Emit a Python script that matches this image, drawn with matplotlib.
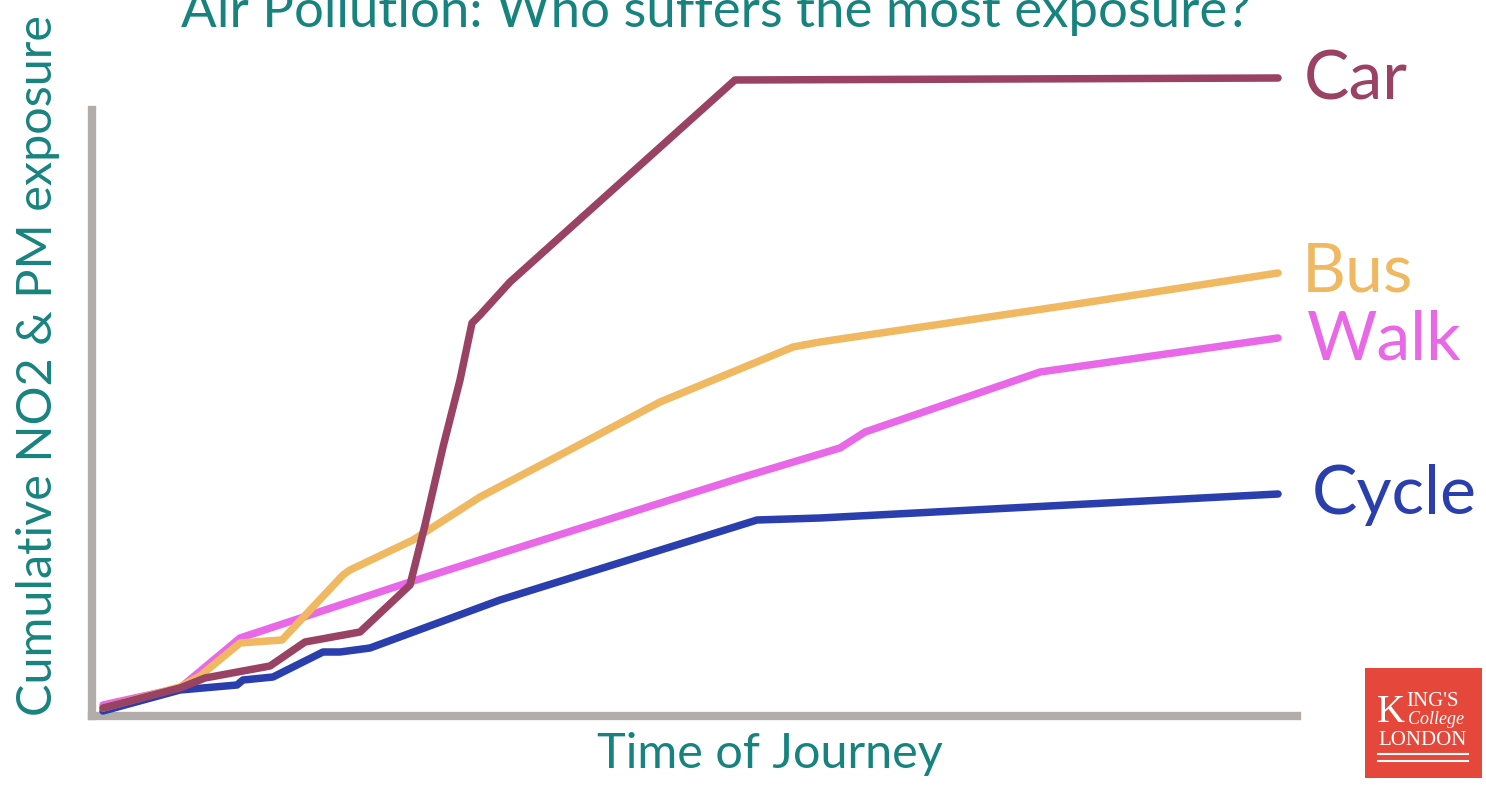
import matplotlib
matplotlib.use("Agg")
import matplotlib.pyplot as plt
from matplotlib.patches import Rectangle

# ---- data (arbitrary units: time along journey, cumulative exposure) ----
car_x = [11, 88, 113, 178, 213, 268, 318, 333, 351, 368, 380, 388, 418, 643, 1186]
car_y = [8, 28, 38, 50, 74, 84, 131, 191, 269, 336, 393, 401, 434, 636, 638]

bus_x = [11, 88, 108, 148, 190, 251, 258, 321, 388, 468, 568, 701, 728, 978, 1186]
bus_y = [8, 29, 40, 73, 76, 141, 146, 176, 219, 261, 314, 369, 374, 411, 443]

walk_x = [11, 88, 148, 315, 435, 648, 748, 773, 948, 1186]
walk_y = [11, 28, 78, 133, 171, 238, 268, 284, 344, 378]

cycle_x = [11, 88, 145, 151, 181, 231, 248, 278, 408, 665, 728, 1186]
cycle_y = [5, 26, 31, 36, 39, 64, 64, 68, 116, 196, 198, 222]

labels = ["Car", "Bus", "Walk", "Cycle"]
colors = ["#9a4263", "#f0b860", "#e968e8", "#2a3eae"]

FONT = ["Lato", "DejaVu Sans"]
TEAL = "#17837f"
SPINE = "#b3adaa"

fig = plt.figure(figsize=(14.86, 7.85), dpi=100)
ax = fig.add_axes([92 / 1486, 69 / 785, 1205 / 1486, 660 / 785])
ax.set_xlim(0, 1205)
ax.set_ylim(0, 660)

series = [(car_x, car_y), (bus_x, bus_y), (walk_x, walk_y), (cycle_x, cycle_y)]
order = [2, 3, 1, 0]  # drawing order
for i in order:
    xs, ys = series[i]
    ax.plot(xs, ys, color=colors[i], lw=5.4, solid_joinstyle="round",
            solid_capstyle="round", zorder=3 + (i == 0))

# end labels
label_pos = {"Car": (1212, 636), "Bus": (1210, 444), "Walk": (1215, 376), "Cycle": (1220, 221)}
for name, c in zip(labels, colors):
    x, y = label_pos[name]
    ax.text(x, y, name, color=c, fontsize=49, family=FONT, ha="left", va="center",
            clip_on=False)

# axes styling
for s in ["top", "right"]:
    ax.spines[s].set_visible(False)
ax.spines["left"].set_color(SPINE)
ax.spines["bottom"].set_color(SPINE)
ax.spines["left"].set_linewidth(6)
ax.spines["bottom"].set_linewidth(6)
ax.spines["left"].set_bounds(0, 606)
ax.set_xticks([])
ax.set_yticks([])
ax.patch.set_visible(False)

# titles
fig.text(0.482, 1 - 27 / 785, "Air Pollution: Who suffers the most exposure?",
         color=TEAL, fontsize=38, family=FONT, ha="center", va="baseline")
fig.text(38 / 1486, 1 - 366 / 785, "Cumulative NO2 & PM exposure", color=TEAL,
         fontsize=35, family=FONT, rotation=90, ha="center", va="center")
fig.text(770 / 1486, 1 - 768 / 785, "Time of Journey", color=TEAL,
         fontsize=35, family=FONT, ha="center", va="baseline")

# King's College London logo block
fig.patches.append(Rectangle((1365 / 1486, 7 / 785), 117 / 1486, 110 / 785,
                             transform=fig.transFigure, facecolor="#e5483b",
                             edgecolor="none"))
serif = ["Liberation Serif", "DejaVu Serif"]
fig.text(1377 / 1486, 1 - 722 / 785, "K", color="white", fontsize=28, family=serif,
         ha="left", va="baseline")
fig.text(1406 / 1486, 1 - 706 / 785, "ING'S", color="white", fontsize=15, family=serif,
         ha="left", va="baseline")
fig.text(1408 / 1486, 1 - 724 / 785, "College", color="white", fontsize=13, family=serif,
         style="italic", ha="left", va="baseline")
fig.text(1423 / 1486, 1 - 745 / 785, "LONDON", color="white", fontsize=15, family=serif,
         ha="center", va="baseline")
for yy in (754, 761):
    fig.add_artist(plt.Line2D([1378 / 1486, 1468 / 1486], [1 - yy / 785, 1 - yy / 785],
                              transform=fig.transFigure, color="white", lw=1.5))

fig.savefig("out.png", dpi=100)
